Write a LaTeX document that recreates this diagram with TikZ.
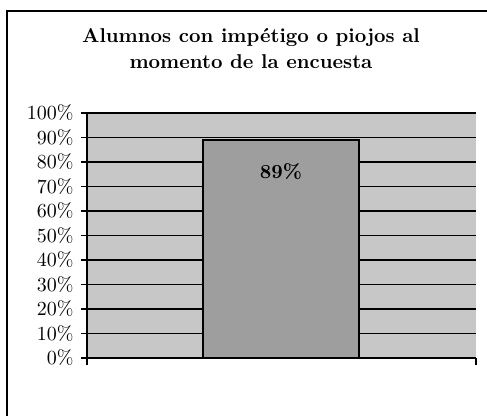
\documentclass[tikz,border=0pt]{standalone}
\usepackage{tikz}
\begin{document}
\begin{tikzpicture}[x=0.5pt,y=0.5pt]
		\useasboundingbox (0,0) rectangle (487,416);
		\tikzset{etiqueta/.style={anchor=east, inner sep=1pt}}
		%Marco del grafico
		\draw[line width=1pt](7,0) -- (7,405) -- (487,405);
		\node[font=\bfseries, align=center] (titulo) at (251,367) {Alumnos con impétigo o piojos al\\[1pt]momento de la encuesta};
		\fill[black!22](87,58) rectangle (476,303);
		\foreach \i in {0,...,10}{
			\pgfmathtruncatemacro\p{10*\i}
			\draw[semithick](81,58+24.5*\i) -- (476,58+24.5*\i);
			\node[etiqueta] (e\i) at (76,58+24.5*\i) {\p\%};
		}
		\draw[semithick](87,58) -- (87,303);
		\draw[semithick](87,51) -- (87,58) (476,51) -- (476,58);
		\filldraw[fill=black!38, draw=black, line width=1pt](203,58) rectangle (359,276);
		\node[font=\bfseries] (valor) at (281,244) {89\%};
	\end{tikzpicture}
\end{document}
